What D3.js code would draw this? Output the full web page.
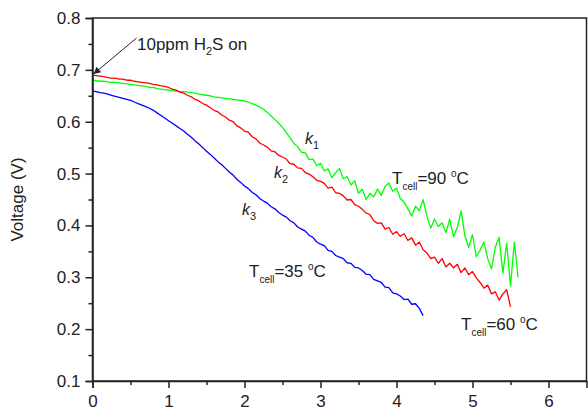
<!DOCTYPE html>
<html>
<head>
<meta charset="utf-8">
<script src="https://cdn.jsdelivr.net/npm/d3@7"></script>
<style>
  body { margin: 0; background: #fff; }
  text { font-family: Arial, "Liberation Sans", sans-serif; fill: #222; }
  .axis path, .axis line { stroke: #222; stroke-width: 1.5; }
  .axis text { font-size: 17px; }
</style>
</head>
<body>
<script>
// parameters
var svgWidth = 588;
var svgHeight = 414;

var margin = { top: 18, right: 1.5, bottom: 33, left: 92.5 };
var chartWidth = svgWidth - margin.left - margin.right;
var chartHeight = svgHeight - margin.top - margin.bottom;

// time between two samples (h)
var tStep = 0.05;

// ticks
var xTicks = [0, 1, 2, 3, 4, 5, 6];
var xMinor = [0.5, 1.5, 2.5, 3.5, 4.5, 5.5];
var yTicks = [0.1, 0.2, 0.3, 0.4, 0.5, 0.6, 0.7, 0.8];
var yMinor = [0.15, 0.25, 0.35, 0.45, 0.55, 0.65, 0.75];

// cell voltage, one value every tStep
var volts35 = [
  .659, .658, .656, .655, .653, .651, .649, .647, .645, .643,
  .641, .638, .635, .632, .629, .626, .622, .617, .612, .607,
  .602, .597, .592, .587, .582, .576, .570, .563, .557, .550,
  .543, .537, .530, .523, .517, .510, .503, .497, .489, .483,
  .476, .471, .464, .459, .452, .447, .443, .436, .432, .425,
  .420, .416, .409, .405, .397, .393, .389, .381, .377, .368,
  .364, .361, .352, .350, .342, .339, .336, .328, .327, .319,
  .318, .313, .306, .305, .296, .293, .290, .281, .280, .270,
  .268, .264, .257, .258, .248, .249, .240, .226
];

var volts60 = [
  .690, .689, .688, .687, .685, .684, .684, .682, .682, .680,
  .680, .678, .677, .676, .675, .674, .672, .671, .669, .668,
  .666, .663, .661, .657, .655, .651, .648, .643, .640, .635,
  .632, .627, .622, .619, .613, .609, .603, .600, .592, .588,
  .582, .580, .571, .567, .559, .555, .551, .544, .542, .535,
  .532, .528, .519, .518, .511, .510, .502, .499, .494, .487,
  .485, .481, .472, .474, .463, .462, .457, .449, .450, .440,
  .437, .431, .424, .421, .409, .404, .405, .393, .396, .383,
  .388, .379, .384, .371, .376, .362, .368, .353, .347, .336,
  .339, .327, .336, .320, .327, .318, .325, .309, .318, .305,
  .311, .299, .290, .279, .285, .268, .272, .256, .268, .276,
  .243
];

var volts90 = [
  .680, .679, .678, .678, .677, .676, .676, .675, .674, .673,
  .672, .671, .670, .669, .668, .666, .666, .664, .663, .662,
  .661, .660, .659, .658, .658, .657, .656, .655, .653, .652,
  .651, .650, .648, .647, .646, .645, .644, .643, .642, .641,
  .640, .638, .635, .632, .628, .624, .618, .611, .604, .597,
  .589, .579, .569, .558, .552, .541, .540, .527, .528, .515,
  .520, .505, .509, .492, .502, .510, .490, .494, .478, .486,
  .462, .470, .450, .462, .455, .470, .458, .475, .482, .466,
  .472, .452, .445, .432, .418, .437, .428, .450, .418, .395,
  .412, .398, .405, .386, .412, .378, .396, .428, .380, .358,
  .382, .340, .352, .368, .336, .316, .358, .377, .308, .366,
  .283, .368, .300
];

var series = [
  { name: "90", values: volts90, color: "#00ff00" },
  { name: "60", values: volts60, color: "#ff0000" },
  { name: "35", values: volts35, color: "#0000ff" }
];

var svg = d3.select("body")
  .append("svg")
  .attr("width", svgWidth)
  .attr("height", svgHeight);

var chartGroup = svg.append("g")
  .attr("transform", `translate(${margin.left}, ${margin.top})`);

var xScale = d3.scaleLinear().domain([0, 6.5]).range([0, chartWidth]);
var yScale = d3.scaleLinear().domain([0.1, 0.8]).range([chartHeight, 0]);

// curves
var line = d3.line()
  .x((d, i) => xScale(i * tStep))
  .y(d => yScale(d));

series.forEach(function (s) {
  chartGroup.append("path")
    .datum(s.values)
    .attr("fill", "none")
    .attr("stroke", s.color)
    .attr("stroke-width", 1.3)
    .attr("stroke-linejoin", "round")
    .attr("d", line);
});

// frame
chartGroup.append("rect")
  .attr("width", chartWidth)
  .attr("height", chartHeight)
  .attr("fill", "none")
  .attr("stroke", "#222")
  .attr("stroke-width", 1.5);

// axes
chartGroup.append("g")
  .attr("class", "axis")
  .attr("transform", `translate(0, ${chartHeight})`)
  .call(d3.axisBottom(xScale).tickValues(xMinor).tickSize(4).tickFormat(""))
  .call(g => g.select(".domain").remove());

chartGroup.append("g")
  .attr("class", "axis")
  .attr("transform", `translate(0, ${chartHeight})`)
  .call(d3.axisBottom(xScale).tickValues(xTicks).tickSize(7).tickPadding(7).tickFormat(d3.format("d")));

chartGroup.append("g")
  .attr("class", "axis")
  .call(d3.axisLeft(yScale).tickValues(yMinor).tickSize(4).tickFormat(""))
  .call(g => g.select(".domain").remove());

chartGroup.append("g")
  .attr("class", "axis")
  .call(d3.axisLeft(yScale).tickValues(yTicks).tickSize(7).tickPadding(5).tickFormat(d3.format(".1f")));

svg.append("text")
  .attr("transform", `translate(23, ${margin.top + yScale(0.45)}) rotate(-90)`)
  .attr("text-anchor", "middle")
  .attr("font-size", "17px")
  .text("Voltage (V)");

// annotation arrow
svg.append("defs").append("marker")
  .attr("id", "head")
  .attr("viewBox", "0 0 10 10")
  .attr("refX", 10).attr("refY", 5)
  .attr("markerWidth", 10).attr("markerHeight", 7)
  .attr("markerUnits", "userSpaceOnUse")
  .attr("orient", "auto")
  .append("path")
  .attr("d", "M0,0 L10,5 L0,10 z")
  .attr("fill", "#222");

chartGroup.append("line")
  .attr("x1", 44).attr("y1", 20)
  .attr("x2", xScale(0) + 1).attr("y2", yScale(0.69) - 1)
  .attr("stroke", "#222")
  .attr("stroke-width", 1)
  .attr("marker-end", "url(#head)");

var note = svg.append("text")
  .attr("x", 137).attr("y", 50)
  .attr("font-size", "17px");
note.append("tspan").text("10ppm H");
note.append("tspan").attr("font-size", "11px").attr("dy", 5).text("2");
note.append("tspan").attr("dy", -5).text("S on");

// rate labels
function kLabel(x, y, sub) {
  var t = svg.append("text")
    .attr("x", x).attr("y", y)
    .attr("font-size", "16px");
  t.append("tspan").attr("font-style", "italic").text("k");
  t.append("tspan").attr("font-size", "11px").attr("dy", 5).text(sub);
}
kLabel(305, 144, "1");
kLabel(274, 178, "2");
kLabel(242, 215, "3");

// temperature labels
function tLabel(x, y, value) {
  var t = svg.append("text")
    .attr("x", x).attr("y", y)
    .attr("font-size", "17px");
  t.append("tspan").text("T");
  t.append("tspan").attr("font-size", "10px").attr("dy", 6).text("cell");
  t.append("tspan").attr("dy", -6).text("=" + value + " ");
  t.append("tspan").attr("font-size", "10px").attr("dy", -7).text("o");
  t.append("tspan").attr("dy", 7).text("C");
}
tLabel(392, 184, "90");
tLabel(249, 277, "35");
tLabel(461, 330, "60");
</script>
</body>
</html>
